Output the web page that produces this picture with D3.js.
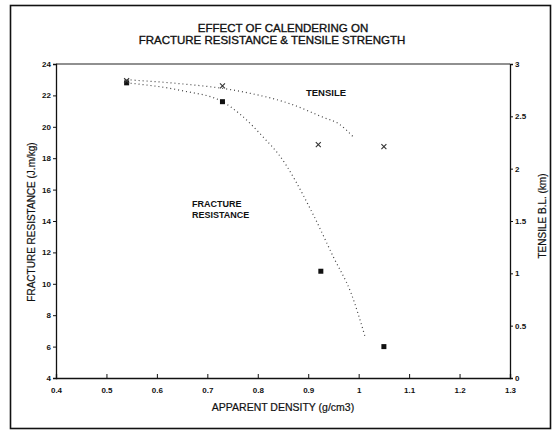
<!DOCTYPE html>
<html>
<head>
<meta charset="utf-8">
<script src="https://cdn.jsdelivr.net/npm/d3@7"></script>
<style>
  body { margin: 0; background: #fff; }
  svg text { font-family: "Liberation Sans", Arial, sans-serif; fill: #111; }
</style>
</head>
<body>
<svg id="chart" width="553" height="431"></svg>
<script>
// measured points (squares = fracture resistance, stars = tensile)
const fractureX = [0.54, 0.73, 0.925, 1.05];
const fractureY = [22.8, 21.6, 10.8, 6.0];
const tensileX = [0.54, 0.73, 0.92, 1.05];
const tensileY = [2.84, 2.79, 2.23, 2.21];

// fitted curves
const fractureFitX = [0.54, 0.65, 0.73, 0.765, 0.815, 0.84, 0.91, 0.95, 0.985, 1.013];
const fractureFitY = [22.8, 22.3, 21.6, 20.8, 19.2, 18.3, 14.4, 11.7, 9.4, 6.6];
const tensileFitX = [0.54, 0.65, 0.74, 0.785, 0.864, 0.93, 0.96, 0.99];
const tensileFitY = [2.85, 2.81, 2.76, 2.72, 2.62, 2.49, 2.43, 2.30];

const xTicks = [0.4, 0.5, 0.6, 0.7, 0.8, 0.9, 1, 1.1, 1.2, 1.3];
const leftTicks = [4, 6, 8, 10, 12, 14, 16, 18, 20, 22, 24];
const rightTicks = [0, 0.5, 1, 1.5, 2, 2.5, 3];

const svg = d3.select("#chart");
const plotLeft = 56, plotRight = 510, plotTop = 64, plotBottom = 378;

const x = d3.scaleLinear().domain([0.4, 1.3]).range([plotLeft, plotRight]);
const yL = d3.scaleLinear().domain([4, 24]).range([plotBottom, plotTop]);
const yR = d3.scaleLinear().domain([0, 3]).range([plotBottom, plotTop]);

// outer frame
svg.append("rect")
  .attr("x", 10.5).attr("y", 5.5)
  .attr("width", 540).attr("height", 423)
  .attr("fill", "none").attr("stroke", "#111").attr("stroke-width", 1.6);

// title (scanned original is heavy, so a thin stroke thickens it)
svg.append("text").attr("x", 283).attr("y", 32)
  .attr("text-anchor", "middle").style("font-size", "11.5px")
  .attr("stroke", "#111").attr("stroke-width", 0.35)
  .text("EFFECT OF CALENDERING ON");
svg.append("text").attr("x", 272).attr("y", 44)
  .attr("text-anchor", "middle").style("font-size", "11.5px")
  .attr("stroke", "#111").attr("stroke-width", 0.35)
  .text("FRACTURE RESISTANCE & TENSILE STRENGTH");

// top edge of plot box
svg.append("line").attr("x1", plotLeft).attr("x2", plotRight).attr("y1", plotTop).attr("y2", plotTop)
  .attr("stroke", "#222").attr("stroke-width", 1.2);

const fmt = d => String(d);

const gx = svg.append("g").attr("transform", `translate(0,${plotBottom})`)
  .call(d3.axisBottom(x).tickValues(xTicks).tickSize(-4).tickPadding(9).tickFormat(fmt));
const gl = svg.append("g").attr("transform", `translate(${plotLeft},0)`)
  .call(d3.axisLeft(yL).tickValues(leftTicks).tickSize(3).tickPadding(2).tickFormat(fmt));
const gr = svg.append("g").attr("transform", `translate(${plotRight},0)`)
  .call(d3.axisRight(yR).tickValues(rightTicks).tickSize(3).tickPadding(2).tickFormat(fmt));

[gx, gl, gr].forEach(g => {
  g.select(".domain").attr("stroke", "#111").attr("stroke-width", 1.3);
  g.selectAll(".tick line").attr("stroke", "#111");
  g.selectAll(".tick text").style("font-size", "8px").style("font-weight", "bold")
    .style("font-family", "'Liberation Sans', Arial, sans-serif").attr("fill", "#111");
});

// axis titles
svg.append("text").attr("x", 283).attr("y", 411)
  .attr("text-anchor", "middle").style("font-size", "10.5px")
  .attr("stroke", "#111").attr("stroke-width", 0.2)
  .text("APPARENT DENSITY (g/cm3)");
svg.append("text")
  .attr("transform", "translate(35,222) rotate(-90)")
  .attr("text-anchor", "middle").style("font-size", "10px")
  .attr("stroke", "#111").attr("stroke-width", 0.2)
  .text("FRACTURE RESISTANCE (J.m/kg)");
svg.append("text")
  .attr("transform", "translate(546,216) rotate(-90)")
  .attr("text-anchor", "middle").style("font-size", "10px")
  .attr("stroke", "#111").attr("stroke-width", 0.2)
  .text("TENSILE B.L. (km)");

// fitted curves (dotted)
const fracLine = d3.line().x(d => x(d[0])).y(d => yL(d[1])).curve(d3.curveMonotoneX);
const tensLine = d3.line().x(d => x(d[0])).y(d => yR(d[1])).curve(d3.curveMonotoneX);

svg.append("path")
  .attr("d", fracLine(fractureFitX.map((v, i) => [v, fractureFitY[i]])))
  .attr("fill", "none").attr("stroke", "#444").attr("stroke-width", 1.2)
  .attr("stroke-dasharray", "1,3");
svg.append("path")
  .attr("d", tensLine(tensileFitX.map((v, i) => [v, tensileFitY[i]])))
  .attr("fill", "none").attr("stroke", "#444").attr("stroke-width", 1.2)
  .attr("stroke-dasharray", "1,3");

// fracture squares
svg.selectAll(".sq").data(fractureX.map((v, i) => [v, fractureY[i]]))
  .enter().append("rect").attr("class", "sq")
  .attr("x", d => x(d[0]) - 2.5).attr("y", d => yL(d[1]) - 2.5)
  .attr("width", 5).attr("height", 5).attr("fill", "#111");

// tensile stars
const star = d3.symbol().type(d3.symbolTimes).size(18);
svg.selectAll(".st").data(tensileX.map((v, i) => [v, tensileY[i]]))
  .enter().append("path").attr("class", "st")
  .attr("transform", d => `translate(${x(d[0])},${yR(d[1])})`)
  .attr("d", star).attr("fill", "none").attr("stroke", "#333").attr("stroke-width", 1.1);

// in-plot labels
svg.append("text").attr("x", 326).attr("y", 96)
  .attr("text-anchor", "middle").style("font-size", "9.5px").style("font-weight", "bold")
  .text("TENSILE");
svg.append("text").attr("x", 192).attr("y", 207)
  .style("font-size", "9px").style("font-weight", "bold")
  .text("FRACTURE");
svg.append("text").attr("x", 192).attr("y", 218)
  .style("font-size", "9px").style("font-weight", "bold")
  .text("RESISTANCE");
</script>
</body>
</html>
